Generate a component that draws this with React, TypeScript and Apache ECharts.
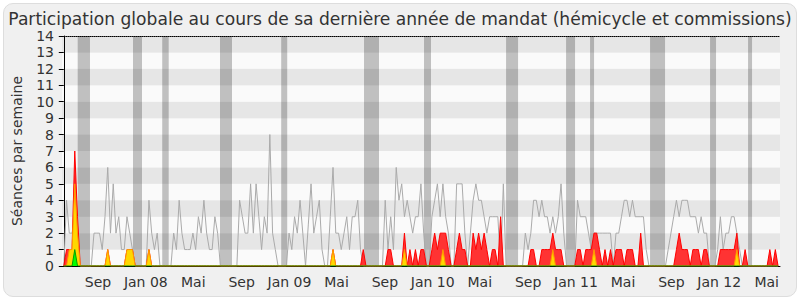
import React, { useEffect, useRef } from "react";
import * as echarts from "echarts";

const TITLE = "Participation globale au cours de sa dernière année de mandat (hémicycle et commissions)";
const Y_NAME = "Séances par semaine";
const START_DATE = "2007-06-06";
const TICK_DATES = [
  "2007-09-01", "2008-01-01", "2008-05-01", "2008-09-01", "2009-01-01",
  "2009-05-01", "2009-09-01", "2010-01-01", "2010-05-01", "2010-09-01",
  "2011-01-01", "2011-05-01", "2011-09-01", "2012-01-01", "2012-05-01",
];
const TICK_LABELS = ["Sep", "Jan 08", "Mai", "Sep", "Jan 09", "Mai", "Sep", "Jan 10", "Mai", "Sep", "Jan 11", "Mai", "Sep", "Jan 12", "Mai"];

// parliamentary breaks, in weeks from START_DATE
const VACATIONS: [number, number][] = [
  [5.06, 9.54], [25.19, 28.47], [35.83, 38.19], [56.86, 61.23], [79.14, 81.33],
  [109.28, 114.74], [131.12, 133.67], [160.99, 165.36], [182.83, 186.1], [191.56, 193.02],
  [213.4, 218.86], [235.24, 237.42], [249.07, 250.53],
];

// weekly values
const MEDIAN = [
  0, 4, 2, 2, 3, 1, 0, 0, 0, 0,
  0, 2, 2, 2, 1, 3, 6, 2, 5, 2,
  3, 1, 1, 3, 2, 1, 0, 0, 0, 0,
  0, 4, 2, 1, 2, 0, 0, 0, 0, 0,
  2, 1, 4, 2, 1, 1, 1, 2, 1, 3,
  2, 4, 2, 1, 1, 3, 2, 0, 0, 0,
  0, 0, 0, 0, 4, 3, 2, 2, 5, 2,
  5, 3, 1, 3, 2, 8, 2, 1, 0, 0,
  0, 0, 2, 1, 3, 2, 4, 2, 0, 2.5,
  5, 2, 3, 4, 1, 0, 0, 3, 6, 2,
  2, 1, 2, 3, 1, 3, 3, 4, 1, 0,
  0, 0, 0, 0, 0, 0, 0, 4, 1, 3,
  1, 6, 4, 5, 3, 4, 3, 2, 3, 3,
  5, 2, 0, 0, 3, 4, 5, 3, 5, 3,
  2, 0, 0, 5, 5, 5, 2, 0, 2, 4,
  5, 4, 4, 3, 2, 3, 3, 3, 3, 0,
  5, 0, 0, 0, 0, 0, 0, 0, 2, 1,
  2, 4, 4, 3, 4, 3, 3, 2, 3, 2,
  3, 5, 2, 0, 0, 0, 0, 4, 3, 3,
  3, 2, 1, 2, 2, 2, 2, 2, 2, 2,
  0, 2, 2, 3, 4, 4, 3, 4, 3, 3,
  3, 3, 1, 0, 0, 0, 0, 0, 0, 0,
  1, 2, 3, 4, 3, 4, 4, 4, 3, 3,
  3, 2, 3, 2, 2, 0, 0, 0, 1, 3,
  1, 2, 2, 3, 3, 2, 1, 0, 0, 0,
  0, 0, 0, 0, 0, 0, 0, 0, 0, 0, 0,
];

const PRESENCES = [
  0, 1, 1, 1, 7, 3, 0, 0, 0, 0,
  0, 0, 0, 0, 0, 0, 1, 0, 0, 0,
  0, 0, 0, 1, 1, 1, 0, 0, 0, 0,
  0, 1, 0, 0, 0, 0, 0, 0, 0, 0,
  0, 0, 0, 0, 0, 0, 0, 0, 0, 0,
  0, 0, 0, 0, 0, 0, 0, 0, 0, 0,
  0, 0, 0, 0, 0, 0, 0, 0, 0, 0,
  0, 0, 0, 0, 0, 0, 0, 0, 0, 0,
  0, 0, 0, 0, 0, 0, 0, 0, 0, 0,
  0, 0, 0, 0, 0, 0, 0, 0, 1, 0,
  0, 0, 0, 0, 0, 0, 0, 0, 0, 1,
  0, 0, 0, 0, 0, 0, 0, 0, 1, 1,
  0, 0, 0, 0, 2, 0, 1, 0, 1, 0,
  1, 1, 0, 0, 1, 2, 1, 2, 2, 2,
  1, 0, 0, 1, 2, 1, 1, 0, 0, 2,
  1, 2, 1, 2, 1, 0, 1, 1, 0, 3,
  0, 0, 0, 0, 0, 0, 0, 0, 0, 0,
  1, 1, 0, 0, 1, 1, 1, 1, 2, 1,
  1, 1, 0, 0, 0, 0, 0, 1, 1, 0,
  1, 1, 1, 2, 2, 1, 0, 1, 0, 1,
  0, 1, 1, 1, 0, 1, 1, 1, 0, 0,
  2, 0, 0, 0, 0, 0, 0, 0, 0, 0,
  0, 0, 0, 1, 2, 1, 1, 1, 0, 1,
  1, 1, 0, 1, 1, 0, 0, 0, 0, 1,
  1, 1, 1, 1, 1, 2, 0, 0, 1, 0,
  0, 0, 0, 0, 0, 0, 0, 1, 0, 1, 0,
];

const PARTICIPATIONS = [
  0, 0, 1, 1, 5, 2, 0, 0, 0, 0,
  0, 0, 0, 0, 0, 0, 1, 0, 0, 0,
  0, 0, 0, 1, 1, 1, 0, 0, 0, 0,
  0, 1, 0, 0, 0, 0, 0, 0, 0, 0,
  0, 0, 0, 0, 0, 0, 0, 0, 0, 0,
  0, 0, 0, 0, 0, 0, 0, 0, 0, 0,
  0, 0, 0, 0, 0, 0, 0, 0, 0, 0,
  0, 0, 0, 0, 0, 0, 0, 0, 0, 0,
  0, 0, 0, 0, 0, 0, 0, 0, 0, 0,
  0, 0, 0, 0, 0, 0, 0, 0, 1, 0,
  0, 0, 0, 0, 0, 0, 0, 0, 0, 0,
  0, 0, 0, 0, 0, 0, 0, 0, 0, 0,
  0, 0, 0, 0, 1, 0, 0, 0, 0, 0,
  0, 0, 0, 0, 0, 0, 0, 0, 1, 0,
  0, 0, 0, 0, 0, 0, 0, 0, 0, 0,
  0, 0, 0, 0, 0, 0, 0, 0, 0, 0,
  0, 0, 0, 0, 0, 0, 0, 0, 0, 0,
  0, 0, 0, 0, 0, 0, 0, 0, 1, 0,
  0, 0, 0, 0, 0, 0, 0, 0, 0, 0,
  0, 0, 0, 1, 0, 0, 0, 0, 0, 0,
  0, 0, 0, 0, 0, 0, 0, 0, 0, 0,
  0, 0, 0, 0, 0, 0, 0, 0, 0, 0,
  0, 0, 0, 0, 0, 0, 0, 0, 0, 0,
  0, 0, 0, 0, 0, 0, 0, 0, 0, 0,
  0, 0, 0, 0, 0, 1, 0, 0, 0, 0,
  0, 0, 0, 0, 0, 0, 0, 0, 0, 0, 0,
];

const QUESTIONS = [
  0, 0, 0, 0, 1, 0, 0, 0, 0, 0,
];

const FONT = "DejaVu Sans";

export default function App() {
  const ref = useRef<HTMLDivElement>(null);

  useEffect(() => {
    if (!ref.current) return;
    const chart = echarts.init(ref.current, null, { renderer: "svg" });
    const startMs = Date.parse(START_DATE);
    const weekOf = (iso: string) => (Date.parse(iso) - startMs) / (7 * 86400000);
    const tickValues = TICK_DATES.map(weekOf);
    const labelFor = (v: number) => {
      let best = 0;
      let bd = Infinity;
      tickValues.forEach((t, i) => {
        const d = Math.abs(t - v);
        if (d < bd) { bd = d; best = i; }
      });
      return TICK_LABELS[best];
    };
    const n = MEDIAN.length;
    const pairs = (arr: number[]) => Array.from({ length: n }, (_, i) => [i, arr[i] ?? 0]);

    chart.setOption({
      animation: false,
      title: {
        text: TITLE,
        left: "center",
        top: 5,
        textStyle: { fontFamily: FONT, fontSize: 17.1, fontWeight: "normal", color: "#333" },
      },
      grid: { left: 62, right: 20, top: 36, bottom: 34 },
      xAxis: [
        {
          type: "value",
          min: -0.65,
          max: 260.7,
          axisLine: { show: true, lineStyle: { color: "#000", width: 1 } },
          axisTick: { show: false },
          splitLine: { show: false },
          axisLabel: {
            customValues: tickValues,
            formatter: (v: number) => labelFor(v),
            fontFamily: FONT,
            fontSize: 14,
            color: "#333",
            margin: 9,
          },
        },
        {
          type: "value",
          position: "top",
          min: -0.65,
          max: 260.7,
          axisLine: { show: true, lineStyle: { color: "#000", width: 1, type: [1, 1] } },
          axisTick: { show: false },
          axisLabel: { show: false },
          splitLine: { show: false },
        },
      ],
      yAxis: {
        type: "value",
        min: 0,
        max: 14,
        interval: 1,
        name: Y_NAME,
        nameLocation: "middle",
        nameGap: 38,
        nameTextStyle: { fontFamily: FONT, fontSize: 14, color: "#333" },
        axisLine: { show: true, lineStyle: { color: "#000", width: 1 } },
        axisTick: { show: true, length: 5, lineStyle: { color: "#000" } },
        axisLabel: { fontFamily: FONT, fontSize: 14, color: "#333", margin: 8 },
        splitLine: { show: false },
        splitArea: { show: true, areaStyle: { color: ["#fafafa", "#e6e6e6"] } },
      },
      series: [
        {
          type: "line",
          data: [[0, 0]],
          symbol: "none",
          lineStyle: { opacity: 0 },
          silent: true,
          z: 1,
          markArea: {
            silent: true,
            itemStyle: { color: "rgba(0,0,0,0.23)" },
            data: VACATIONS.map(([a, b]) => [{ xAxis: a }, { xAxis: b }]),
          },
        },
        {
          type: "line",
          data: pairs(MEDIAN),
          symbol: "none",
          lineStyle: { color: "#aaaaaa", width: 1 },
          z: 2,
        },
        {
          type: "line",
          data: pairs(PRESENCES),
          symbol: "none",
          lineStyle: { color: "#ff0000", width: 1 },
          areaStyle: { color: "#ff3333", opacity: 1 },
          z: 3,
        },
        {
          type: "line",
          data: pairs(PARTICIPATIONS),
          symbol: "none",
          lineStyle: { color: "#ff9900", width: 1 },
          areaStyle: { color: "#ffd700", opacity: 1 },
          z: 4,
        },
        {
          type: "line",
          data: pairs(QUESTIONS),
          symbol: "none",
          lineStyle: { color: "#00a000", width: 1 },
          areaStyle: { color: "#00ff00", opacity: 1 },
          z: 5,
        },
      ],
    });
    return () => chart.dispose();
  }, []);

  return (
    <div style={{ position: "fixed", left: 0, top: 0, width: 800, height: 300, background: "#ffffff" }}>
      <div
        style={{
          position: "absolute",
          left: 3,
          top: 3,
          width: 792,
          height: 292,
          borderRadius: 10,
          background: "#f0f0f0",
          border: "1px solid #dddddd",
        }}
      />
      <div ref={ref} style={{ position: "absolute", left: 0, top: 0, width: 800, height: 300 }} />
    </div>
  );
}
